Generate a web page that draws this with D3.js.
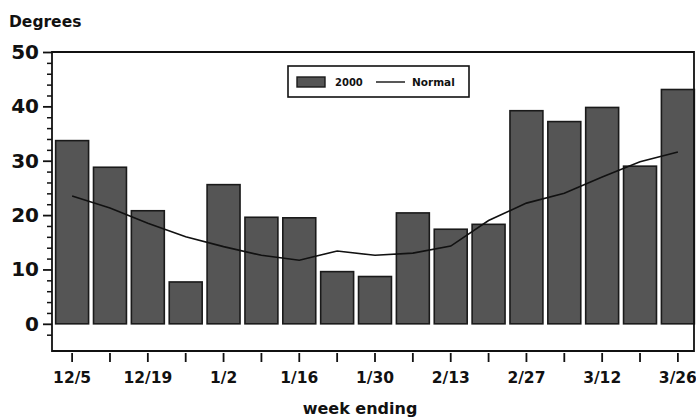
<!DOCTYPE html>
<html>
<head>
<meta charset="utf-8">
<script src="https://cdn.jsdelivr.net/npm/d3@7"></script>
<style>
  html, body { margin: 0; padding: 0; background: #fff; }
  svg { display: block; font-family: "DejaVu Sans", sans-serif; font-weight: bold; }
</style>
</head>
<body>
<svg id="chart" width="696" height="420"></svg>
<script>
const weeks = ["12/5","12/12","12/19","12/26","1/2","1/9","1/16","1/23","1/30","2/6","2/13","2/20","2/27","3/5","3/12","3/19","3/26"];
const temps2000 = [33.7, 28.8, 20.8, 7.7, 25.6, 19.6, 19.5, 9.6, 8.7, 20.4, 17.4, 18.3, 39.2, 37.2, 39.8, 29.0, 43.1];
const normal = [23.5, 21.3, 18.5, 16.0, 14.2, 12.6, 11.7, 13.4, 12.6, 13.0, 14.3, 19.0, 22.2, 24.0, 27.0, 29.8, 31.6];
const labeledWeeks = ["12/5","12/19","1/2","1/16","1/30","2/13","2/27","3/12","3/26"];
const yTicks = [0, 10, 20, 30, 40, 50];

const svg = d3.select("#chart");
const mLeft = 52, mRight = 694, mTop = 52, mBottom = 351;

const x = d3.scaleBand().domain(weeks).range([53, 697]).paddingInner(0.13).paddingOuter(0.07);
const y = d3.scaleLinear().domain([-5, 50]).range([mBottom, mTop]);

// bars
svg.append("g").selectAll("rect").data(weeks).join("rect")
  .attr("x", d => x(d))
  .attr("width", x.bandwidth())
  .attr("y", (d, i) => y(temps2000[i]))
  .attr("height", (d, i) => y(0) - y(temps2000[i]))
  .attr("fill", "#555")
  .attr("stroke", "#1a1a1a")
  .attr("stroke-width", 1.6);

// normal line
const line = d3.line()
  .x((d, i) => x(weeks[i]) + x.bandwidth() / 2)
  .y(d => y(d));
svg.append("path").datum(normal)
  .attr("d", line)
  .attr("fill", "none")
  .attr("stroke", "#111")
  .attr("stroke-width", 1.6);

// frame
svg.append("path")
  .attr("d", `M${mLeft},${mTop}H${mRight}V${mBottom}H${mLeft}Z`)
  .attr("fill", "none")
  .attr("stroke", "#111")
  .attr("stroke-width", 1.8);

// y axis
const yAxis = d3.axisLeft(y).tickValues(yTicks).tickSize(9).tickPadding(4).tickFormat(d3.format("d"));
const gy = svg.append("g").attr("transform", `translate(${mLeft},0)`).call(yAxis);
gy.select(".domain").remove();
gy.selectAll(".tick line").attr("stroke", "#111").attr("stroke-width", 1.8);
gy.selectAll(".tick text").attr("font-size", 20).attr("font-family", "DejaVu Sans").attr("font-weight", "bold").attr("fill", "#111");
const minor = d3.range(-2, 50, 2).filter(v => v % 10 !== 0);
const yMinor = d3.axisLeft(y).tickValues(minor).tickSize(5).tickFormat("");
const gym = svg.append("g").attr("transform", `translate(${mLeft},0)`).call(yMinor);
gym.select(".domain").remove();
gym.selectAll(".tick line").attr("stroke", "#111").attr("stroke-width", 1.5);

// x axis
const xAxis = d3.axisBottom(x).tickSize(9).tickPadding(10)
  .tickFormat(d => labeledWeeks.includes(d) ? d : "");
const gx = svg.append("g").attr("transform", `translate(0,${mBottom + 2})`).call(xAxis);
gx.select(".domain").remove();
gx.selectAll(".tick line").attr("stroke", "#111").attr("stroke-width", 1.8);
gx.selectAll(".tick text").attr("font-size", 15.5).attr("font-family", "DejaVu Sans").attr("font-weight", "bold").attr("fill", "#111");

// titles
svg.append("text").attr("x", 9).attr("y", 27).attr("font-size", 15.5).attr("fill", "#111").text("Degrees");
svg.append("text").attr("x", 360).attr("y", 414).attr("text-anchor", "middle").attr("font-size", 16).attr("fill", "#111").text("week ending");

// legend
const lg = svg.append("g");
lg.append("rect").attr("x", 288).attr("y", 66).attr("width", 181).attr("height", 31)
  .attr("fill", "#fff").attr("stroke", "#111").attr("stroke-width", 1.6);
lg.append("rect").attr("x", 297).attr("y", 77).attr("width", 28).attr("height", 10)
  .attr("fill", "#555").attr("stroke", "#1a1a1a").attr("stroke-width", 1.4);
lg.append("text").attr("x", 335).attr("y", 86).attr("font-size", 10).attr("fill", "#111").text("2000");
lg.append("line").attr("x1", 376).attr("x2", 405).attr("y1", 82).attr("y2", 82)
  .attr("stroke", "#111").attr("stroke-width", 1.4);
lg.append("text").attr("x", 412).attr("y", 86).attr("font-size", 10.5).attr("fill", "#111").text("Normal");
</script>
</body>
</html>
